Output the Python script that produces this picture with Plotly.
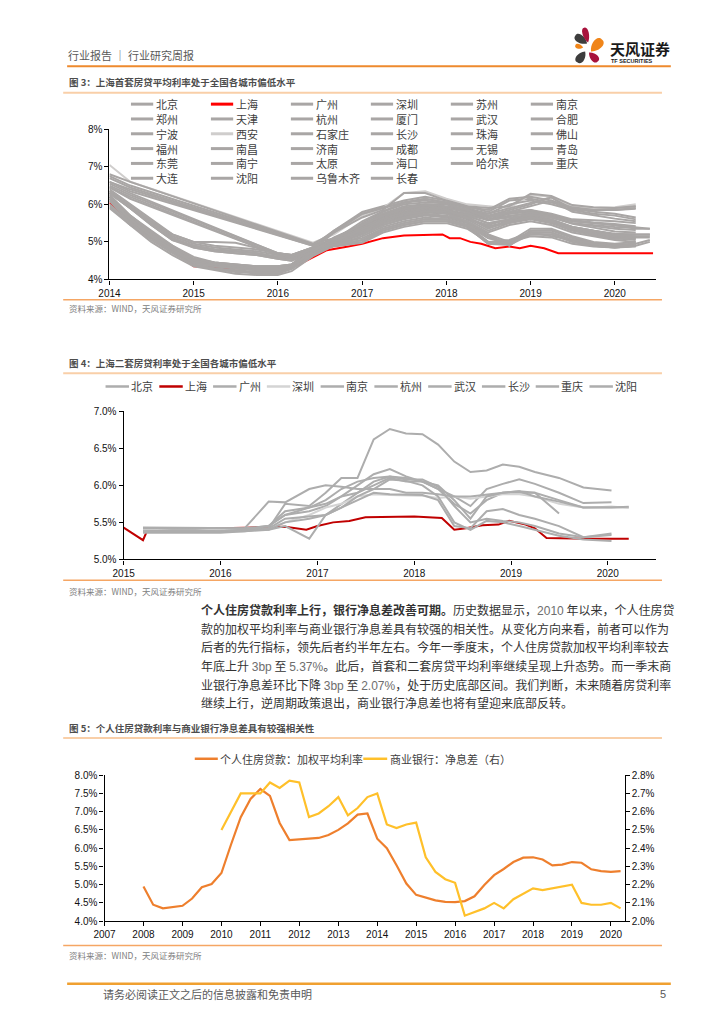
import plotly.graph_objects as go

W, H = 724, 1024
CJK = "Noto Sans CJK SC"
NUM = "Liberation Sans, Arial, Noto Sans CJK SC"
N = None


def px(x):
    return x / W


def py(y):
    return 1 - y / H


# ---------------- Figure 3 data ----------------
cities1 = ["北京", "上海", "广州", "深圳", "苏州", "南京",
           "郑州", "天津", "杭州", "厦门", "武汉", "合肥",
           "宁波", "西安", "石家庄", "长沙", "珠海", "佛山",
           "福州", "南昌", "济南", "成都", "无锡", "青岛",
           "东莞", "南宁", "太原", "海口", "哈尔滨", "重庆",
           "大连", "沈阳", "乌鲁木齐", "长春"]

dates1 = ["2014-01-01", "2014-04-01", "2014-07-01", "2014-10-01", "2015-01-01", "2015-04-01",
          "2015-07-01", "2015-10-01", "2016-01-01", "2016-03-01", "2016-06-01", "2016-09-01",
          "2017-01-01", "2017-04-01", "2017-07-01", "2017-10-01", "2018-01-01", "2018-04-01",
          "2018-07-01", "2018-10-01", "2019-01-01", "2019-04-01", "2019-07-01", "2019-10-01",
          "2020-01-01", "2020-04-01", "2020-06-01"]

# first-home average mortgage rate (%), other cities, order of gray_cities1
gray_cities1 = [c for c in cities1 if c != "上海"]
gray_rates1 = [
    [6.75, 6.5, N, N, N, N, N, N, N, N, 4.95, 5.1, 5.45, 5.7, 5.9, 5.95, 5.9, 5.8, 5.6, 5.75, 5.85, 5.7, 5.55, 5.5, 5.45, 5.4, 5.35],          # 北京
    [6.2, 5.65, 5.2, 4.85, 4.5, 4.4, 4.35, 4.3, 4.3, 4.35, 4.75, 5.0, 5.3, 5.55, 5.75, 5.85, 5.85, 5.7, 5.5, 5.6, 5.7, 5.6, 5.4, 5.3, 5.2, 5.2, 5.2],  # 广州
    [6.1, 5.55, 5.1, 4.75, 4.4, 4.3, 4.25, 4.2, 4.2, 4.3, 4.7, 4.95, 5.2, 5.45, 5.6, 5.7, 5.65, 5.5, 5.15, 4.9, 5.3, 5.3, 5.1, 4.95, 4.9, 4.95, N],   # 深圳
    [6.3, 5.95, 5.55, 5.2, 5.0, 5.0, 4.98, 4.85, 4.7, 4.65, 4.8, 4.9, 5.05, 5.3, 5.45, 5.55, 5.55, 5.4, 4.95, 4.95, 5.2, 5.2, 5.0, 4.9, 4.85, 4.9, N],  # 苏州
    [6.15, 5.6, 5.15, 4.8, 4.45, 4.35, 4.3, 4.25, 4.25, 4.35, 4.75, 4.95, 5.1, 5.35, 5.5, 5.6, 5.6, 5.45, 5.0, 5.0, 5.25, 5.15, 5.05, 4.95, 4.9, 4.95, 5.05],  # 南京
    [6.6, 6.4, N, N, N, N, N, N, N, N, 4.9, 5.3, 5.8, 5.95, 6.1, 6.2, 6.1, 5.95, 5.8, 6.1, 6.15, 6.05, 5.9, 5.88, 5.9, 5.95, N],                  # 郑州
    [6.35, 5.9, 5.5, 5.1, 4.85, 4.75, 4.7, 4.65, 4.55, 4.5, 4.75, 5.05, 5.35, 5.6, 5.8, 5.9, 5.8, 5.6, 5.3, 5.5, 5.6, 5.5, 5.3, 5.2, 5.1, 5.05, N],   # 天津
    [6.25, 5.7, 5.25, 4.9, 4.55, 4.45, 4.4, 4.35, 4.35, 4.4, 4.8, 4.98, 5.25, 5.5, 5.68, 5.78, 5.75, 5.62, 5.42, 5.52, 5.62, 5.5, 5.32, 5.22, 5.12, 5.1, N],  # 杭州
    [5.95, 5.45, 5.0, 4.65, 4.35, 4.25, 4.15, 4.12, 4.12, 4.22, 4.62, 4.9, 5.15, 5.4, 5.55, 5.65, 5.6, 5.45, 5.1, 4.95, 5.25, 5.25, 5.05, 4.9, 4.88, 4.9, N],  # 厦门
    [6.45, 6.2, N, N, N, N, N, N, 4.65, 4.6, 4.8, 5.0, 5.5, 5.8, 6.0, 6.05, 6.05, 5.9, 5.7, 5.85, 6.0, 6.2, 5.85, 5.75, 5.7, 5.6, N],          # 武汉
    [6.2, 5.6, 5.15, 4.8, 4.5, 4.4, 4.35, 4.3, 4.3, 4.35, 4.7, 4.9, 5.0, 5.3, 5.45, 5.55, 5.55, 5.4, 4.95, 4.92, 5.2, 5.2, 5.0, 4.9, 4.85, 4.9, 5.0],  # 合肥
    [6.3, 5.9, 5.45, 5.05, 4.9, 4.8, 4.75, 4.7, 4.6, 4.55, 4.8, 4.92, 5.22, 5.5, 5.7, 5.8, 5.78, 5.62, 5.4, 5.5, 5.62, 5.52, 5.3, 5.18, 5.08, 5.1, N],  # 宁波
    [7.05, 6.6, N, N, N, N, N, N, N, N, 4.98, 5.2, 5.7, 5.9, 6.3, 6.35, 6.15, 6.0, 5.95, 5.9, 6.25, 6.2, 5.95, 5.9, 5.92, 6.0, N],              # 西安
    [6.25, 5.7, 5.3, 4.9, 4.6, 4.45, 4.4, 4.35, 4.35, 4.4, 4.85, 5.3, 5.75, 5.9, 6.05, 6.15, 6.05, 5.9, 5.75, 6.0, 6.1, 6.0, 5.85, 5.85, 5.85, 5.9, N],  # 石家庄
    [6.35, 5.95, 5.55, 5.15, 4.95, 4.85, 4.8, 4.75, 4.65, 4.6, 4.8, 5.1, 5.4, 5.7, 5.85, 5.95, 5.9, 5.8, 5.65, 5.75, 5.8, 5.7, 5.55, 5.5, 5.45, 5.35, 5.35],  # 长沙
    [6.1, 5.5, 5.1, 4.75, 4.4, 4.3, 4.22, 4.15, 4.15, 4.28, 4.65, 4.95, 5.2, 5.45, 5.62, 5.72, 5.68, 5.52, 5.2, 4.9, 5.3, 5.32, 5.12, 4.98, 4.92, 4.95, N],  # 珠海
    [6.2, 5.65, 5.2, 4.85, 4.5, 4.4, 4.3, 4.25, 4.25, 4.35, 4.75, 5.08, 5.4, 5.65, 5.85, 5.95, 5.88, 5.68, 5.38, 5.58, 5.65, 5.55, 5.35, 5.25, 5.15, 5.12, 5.12],  # 佛山
    [6.5, 6.25, N, N, N, N, N, N, 4.7, 4.65, 4.85, 5.1, 5.42, 5.72, 5.88, 5.98, 5.92, 5.82, 5.68, 5.78, 5.82, 5.72, 5.58, 5.52, 5.48, 5.42, N],  # 福州
    [6.4, 6.0, 5.6, 5.2, 5.0, 4.9, 4.85, 4.8, 4.7, 4.65, 4.85, 4.98, 5.45, 5.75, 5.95, 6.0, 6.0, 5.85, 5.75, 5.9, 6.05, 6.18, 5.88, 5.8, 5.75, 5.65, N],  # 南昌
    [6.15, 5.6, 5.2, 4.8, 4.5, 4.4, 4.35, 4.3, 4.3, 4.4, 4.75, 5.05, 5.35, 5.65, 5.8, 5.9, 5.85, 5.75, 5.6, 5.7, 5.75, 5.65, 5.5, 5.45, 5.4, 5.38, N],  # 济南
    [6.2, 5.7, 5.25, 4.85, 4.55, 4.45, 4.4, 4.35, 4.35, 4.4, 4.8, 5.02, 5.38, 5.62, 5.8, 5.9, 5.92, 5.78, 5.58, 5.68, 5.78, 5.66, 5.48, 5.38, 5.28, 5.25, N],  # 成都
    [5.9, 5.45, 5.1, 4.75, 4.45, 4.35, 4.3, 4.25, 4.25, 4.3, 4.7, 4.88, 4.98, 5.25, 5.4, 5.5, 5.5, 5.35, 5.0, 5.05, 5.25, 5.25, 5.05, 4.95, 4.9, 4.92, N],  # 无锡
    [6.55, 6.3, N, N, N, N, N, N, 4.7, 4.65, 4.85, 5.05, 5.38, 5.62, 5.78, 5.92, 5.82, 5.62, 5.45, 5.6, 5.68, 5.55, 5.4, 5.3, 5.22, 5.2, N],     # 青岛
    [6.0, 5.5, 5.05, 4.7, 4.38, 4.28, 4.2, 4.18, 4.18, 4.28, 4.68, 4.98, 5.25, 5.5, 5.65, 5.75, 5.7, 5.55, 5.2, 5.0, 5.35, 5.35, 5.15, 5.0, 4.95, 5.0, N],  # 东莞
    [6.7, 6.45, N, N, N, N, N, N, N, N, 4.92, 5.0, 5.3, 5.55, 5.75, 5.85, 5.85, 5.7, 5.5, 5.6, 5.7, 5.6, 5.4, 5.3, 5.2, 5.2, 5.2],              # 南宁
    [6.35, 5.95, 5.5, 5.1, 4.9, 4.8, 4.75, 4.7, 4.6, 4.55, 4.8, 5.25, 5.75, 5.92, 6.05, 6.15, 6.05, 5.92, 5.85, 6.15, 6.2, 6.1, 5.92, 5.85, 5.85, 5.88, N],  # 太原
    [6.8, 6.6, N, N, N, N, N, N, N, N, 4.95, 5.25, 5.65, 5.85, 6.3, 6.3, 6.1, 5.95, 5.9, 5.95, 6.28, 6.22, 5.98, 5.92, 5.9, 5.95, N],           # 海口
    [6.3, 5.9, 5.5, 5.1, 4.9, 4.8, 4.75, 4.7, 4.6, 4.55, 4.8, 5.0, 5.3, 5.55, 5.75, 5.85, 5.75, 5.55, 5.25, 5.45, 5.55, 5.45, 5.25, 5.15, 5.05, 5.0, N],  # 哈尔滨
    [6.2, 5.6, 5.2, 4.8, 4.5, 4.4, 4.35, 4.3, 4.3, 4.35, 4.75, 5.12, 5.45, 5.75, 5.9, 6.0, 5.95, 5.85, 5.7, 5.8, 5.85, 5.75, 5.6, 5.58, 5.55, 5.5, N],  # 重庆
    [6.6, 6.35, N, N, N, N, N, N, N, N, 4.9, 4.92, 5.05, 5.35, 5.5, 5.6, 5.6, 5.45, 5.1, 5.0, 5.15, 5.12, 4.95, 4.88, 4.85, 4.88, N],           # 大连
    [6.3, 5.9, 5.45, 5.05, 4.85, 4.75, 4.7, 4.65, 4.55, 4.5, 4.75, 5.0, 5.32, 5.58, 5.72, 5.82, 5.8, 5.72, 5.58, 5.65, 5.72, 5.65, 5.5, 5.42, 5.35, 5.32, N],  # 沈阳
    [6.45, 6.15, N, N, N, N, N, N, 4.65, 4.6, 4.8, 5.05, 5.55, 5.82, 6.05, 6.1, 6.0, 5.85, 5.65, 5.8, 5.95, 6.1, 5.8, 5.7, 5.62, 5.55, N],     # 乌鲁木齐
    [6.15, 5.6, 5.15, 4.8, 4.45, 4.35, 4.3, 4.25, 4.25, 4.35, 4.75, 5.1, 5.45, 5.7, 5.88, 5.98, 5.85, 5.65, 5.35, 5.55, 5.65, 5.58, 5.38, 5.28, 5.18, 5.15, 5.15],  # 长春
]

sh_dates1 = ["2014-01-01", "2014-02-01", "2014-04-01", "2014-07-01", "2014-10-01", "2014-12-01",
             "2015-01-01", "2015-06-01", "2016-01-01", "2016-04-01", "2016-08-01", "2016-11-01",
             "2017-01-01", "2017-04-01", "2017-07-01", "2017-12-15", "2018-01-15", "2018-03-01",
             "2018-04-15", "2018-06-01", "2018-08-01", "2018-10-01", "2018-11-15", "2019-01-01",
             "2019-03-01", "2019-05-01", "2020-06-15"]
sh_rates1 = [6.05, 5.85, 5.6, 5.2, 4.8, 4.5, 4.35, 4.3, 4.3, 4.4, 4.78, 4.88, 4.95, 5.1, 5.17, 5.2,
             5.1, 5.1, 5.0, 4.95, 4.83, 4.88, 4.83, 4.9, 4.83, 4.7, 4.7]

years1 = ["2014", "2015", "2016", "2017", "2018", "2019", "2020"]
yticks1 = [4, 5, 6, 7, 8]

# ---------------- Figure 4 data ----------------
cities2 = ["北京", "上海", "广州", "深圳", "南京", "杭州", "武汉", "长沙", "重庆", "沈阳"]
dates2 = ["2015-03-15", "2015-07-01", "2015-10-01", "2016-01-01", "2016-04-01", "2016-07-01",
          "2016-09-01", "2016-12-01", "2017-02-01", "2017-04-01", "2017-06-01", "2017-08-01",
          "2017-10-01", "2017-12-01", "2018-02-01", "2018-04-01", "2018-06-01", "2018-08-01",
          "2018-10-01", "2018-12-01", "2019-02-01", "2019-04-01", "2019-07-01", "2019-10-01",
          "2020-01-15", "2020-03-20"]
gray_cities2 = [c for c in cities2 if c != "上海"]
gray_rates2 = [
    [5.40, 5.40, 5.40, 5.40, 5.42, 5.45, 5.60, 5.65, 5.72, 5.85, 6.00, 6.15, 6.22, 6.12, 6.05, 5.95, 5.85, 5.72, 5.95, 6.02, 6.08, 6.02, 5.90, 5.76, 5.77, N],
    [5.40, 5.40, 5.40, 5.40, 5.40, 5.40, 5.45, 5.28, 5.60, 5.75, 5.90, 6.05, 6.12, 6.10, 6.05, 5.95, 5.75, 5.62, 5.80, 5.90, 5.90, 5.90, 5.80, 5.70, 5.71, 5.70],
    [5.40, 5.42, 5.42, 5.40, 5.40, 5.42, 5.50, 5.60, 5.70, 5.75, 5.85, 5.88, 5.87, 5.87, 5.86, 5.83, 5.85, 5.82, 5.85, 5.88, 5.88, 5.85, 5.75, 5.70, 5.70, 5.70],
    [5.38, 5.38, 5.38, 5.38, 5.40, 5.42, 5.75, 5.72, 5.90, 6.10, 6.10, 6.62, 6.76, 6.70, 6.69, 6.55, 6.32, 6.18, 6.20, 6.28, 6.25, 6.18, 6.10, 5.97, 5.93, N],
    [5.42, 5.42, 5.42, 5.42, 5.42, 5.78, 5.77, 5.95, 6.00, 5.98, 5.95, 5.95, 5.95, 5.90, 5.90, 5.88, 5.85, 5.85, 5.88, 5.90, 5.92, 5.85, 5.78, 5.70, 5.70, 5.71],
    [5.43, 5.43, 5.42, 5.42, 5.42, 5.45, 5.65, 5.70, 5.75, 5.85, 5.90, 6.00, 6.10, 6.05, 6.05, 6.00, 5.80, 5.55, 5.85, 5.90, 5.92, 5.90, 5.62, N, N, N],
    [5.37, 5.37, 5.37, 5.37, 5.38, 5.42, 5.55, 5.58, 5.60, 5.70, 5.80, 5.90, 5.88, 5.88, 5.87, 5.80, 5.45, 5.42, 5.65, 5.68, 5.60, 5.55, 5.45, 5.30, 5.35, N],
    [5.36, 5.36, 5.36, 5.36, 5.38, 5.40, 5.50, 5.55, 5.60, 5.70, 5.85, 5.95, 6.08, 6.06, 6.00, 5.85, 5.50, 5.40, 5.52, 5.50, 5.45, 5.40, 5.32, 5.27, 5.25, N],
    [5.38, 5.38, 5.38, 5.38, 5.40, 5.45, 5.60, 5.70, 5.80, 5.95, 6.05, 6.10, 6.12, 6.08, 6.08, 5.98, 5.72, 5.50, 5.55, 5.52, 5.50, 5.45, 5.35, 5.30, 5.33, N],
]
sh_dates2 = ["2015-01-01", "2015-03-15", "2015-04-01", "2015-07-01", "2016-01-01", "2016-06-01",
             "2016-09-01", "2016-11-20", "2017-01-01", "2017-03-01", "2017-05-01", "2017-07-01",
             "2017-09-01", "2017-11-15", "2018-01-01", "2018-04-15", "2018-06-01", "2018-07-15",
             "2018-09-15", "2018-11-15", "2018-12-25", "2019-02-25", "2019-04-01", "2019-05-15",
             "2019-10-15", "2020-03-20"]
sh_rates2 = [5.43, 5.26, 5.40, 5.41, 5.42, 5.43, 5.44, 5.40, 5.45, 5.50, 5.52, 5.57, 5.57, 5.58,
             5.58, 5.56, 5.40, 5.42, 5.46, 5.47, 5.52, 5.47, 5.42, 5.29, 5.28, 5.28]
years2 = ["2015", "2016", "2017", "2018", "2019", "2020"]
yticks2 = [5.0, 5.5, 6.0, 6.5, 7.0]

# ---------------- Figure 5 data ----------------
mort_dates = [f"{y}-{m:02d}-01" for y in range(2008, 2021) for m in (1, 4, 7, 10)][:50]
mort_rates = [4.95, 4.45, 4.35, 4.38,
              4.42, 4.62, 4.93, 5.02,
              5.32, 6.10, 6.85, 7.35,
              7.62, 7.43, 6.69, 6.22,
              6.23, 6.26, 6.28, 6.36,
              6.50, 6.68, 6.92, 6.95,
              6.26, 6.00, 5.53, 5.03,
              4.72, 4.65, 4.57, 4.53,
              4.52, 4.55, 4.68, 4.99,
              5.26, 5.43, 5.62, 5.74,
              5.75, 5.69, 5.53, 5.55,
              5.62, 5.60, 5.42, 5.37,
              5.35, 5.37]
nim_dates = [f"{y}-{m:02d}-01" for y in range(2010, 2021) for m in (1, 4, 7, 10)][:42]
nim_rates = [2.50, 2.60, 2.70, 2.70,
             2.70, 2.76, 2.73, 2.77,
             2.76, 2.57, 2.59, 2.63,
             2.68, 2.58, 2.62, 2.68,
             2.70, 2.53, 2.51, 2.53,
             2.54, 2.35, 2.27, 2.23,
             2.21, 2.03, 2.05, 2.07,
             2.10, 2.07, 2.12, 2.15,
             2.18, 2.17, 2.18, 2.19,
             2.20, 2.10, 2.09, 2.09,
             2.10, 2.07]
series3 = ["个人住房贷款：加权平均利率", "商业银行：净息差（右）"]
years3 = [str(y) for y in range(2007, 2021)]
yticks3 = [4.0, 4.5, 5.0, 5.5, 6.0, 6.5, 7.0, 7.5, 8.0]
yticks4 = [2.0, 2.1, 2.2, 2.3, 2.4, 2.5, 2.6, 2.7, 2.8]

NUMSPAN = "<span style='font-family:Liberation Sans;color:#6E6E6E'>%s</span>"
paragraph = [
    "<b>个人住房贷款利率上行，银行净息差改善可期。</b>历史数据显示，" + NUMSPAN % "2010" + " 年以来，个人住房贷",
    "款的加权平均利率与商业银行净息差具有较强的相关性。从变化方向来看，前者可以作为",
    "后者的先行指标，领先后者约半年左右。今年一季度末，个人住房贷款加权平均利率较去",
    "年底上升 " + NUMSPAN % "3bp" + " 至 " + NUMSPAN % "5.37%" + "。此后，首套和二套房贷平均利率继续呈现上升态势。而一季末商",
    "业银行净息差环比下降 " + NUMSPAN % "3bp" + " 至 " + NUMSPAN % "2.07%" + "，处于历史底部区间。我们判断，未来随着房贷利率",
    "继续上行，逆周期政策退出，商业银行净息差也将有望迎来底部反转。",
]

# ---------------- colours ----------------
GRAY1 = "#A9A6A5"
LIGHT1 = "#CFCDCC"
RED1 = "#FF0000"
GRAY2 = "#ADADAD"
LIGHT2 = "#D4D4D4"
RED2 = "#C00000"
ORANGE3 = "#EE7F2D"
YELLOW3 = "#FFC02A"


def color1(c):
    return RED1 if c == "上海" else (LIGHT1 if c == "西安" else GRAY1)


def color2(c):
    return RED2 if c == "上海" else (LIGHT2 if c == "深圳" else GRAY2)


fig = go.Figure()

# Figure 3 traces
for c in cities1:
    if c == "上海":
        xs, ys = sh_dates1, sh_rates1
    else:
        xs, ys = dates1, gray_rates1[gray_cities1.index(c)]
    fig.add_trace(go.Scatter(x=xs, y=ys, name=c, mode="lines", connectgaps=True,
                             line=dict(color=color1(c), width=2), xaxis="x", yaxis="y",
                             showlegend=False, hoverinfo="skip"))

# Figure 4 traces
for c in cities2:
    if c == "上海":
        xs, ys = sh_dates2, sh_rates2
    else:
        xs, ys = dates2, gray_rates2[gray_cities2.index(c)]
    fig.add_trace(go.Scatter(x=xs, y=ys, name=c, mode="lines", connectgaps=True,
                             line=dict(color=color2(c), width=2), xaxis="x2", yaxis="y2",
                             showlegend=False, hoverinfo="skip"))

# Figure 5 traces
fig.add_trace(go.Scatter(x=mort_dates, y=mort_rates, name=series3[0], mode="lines",
                         line=dict(color=ORANGE3, width=2.2), xaxis="x3", yaxis="y3",
                         showlegend=False, hoverinfo="skip"))
fig.add_trace(go.Scatter(x=nim_dates, y=nim_rates, name=series3[1], mode="lines",
                         line=dict(color=YELLOW3, width=2.2), xaxis="x3", yaxis="y4",
                         showlegend=False, hoverinfo="skip"))

axc = dict(showline=True, linecolor="black", linewidth=1.3, ticks="outside", ticklen=4,
           tickwidth=1.2, tickcolor="black", showgrid=False, zeroline=False,
           tickfont=dict(family=NUM, size=10, color="#111111"), fixedrange=True)

fig.update_layout(
    width=W, height=H, margin=dict(l=0, r=0, t=0, b=0),
    paper_bgcolor="white", plot_bgcolor="white", showlegend=False,
    xaxis=dict(domain=[px(100), px(655)], anchor="y", type="date",
               range=["2014-01-01", "2020-06-28"],
               tickvals=[f"{y}-01-01" for y in years1], ticktext=years1, **axc),
    yaxis=dict(domain=[py(276.7), py(124.7)], anchor="x", range=[4, 8],
               tickvals=yticks1, ticktext=[f"{v}%" for v in yticks1], **axc),
    xaxis2=dict(domain=[px(114.4), px(655)], anchor="y2", type="date",
                range=["2015-01-01", "2020-07-01"],
                tickvals=[f"{y}-01-01" for y in years2], ticktext=years2, **axc),
    yaxis2=dict(domain=[py(560), py(410)], anchor="x2", range=[5.0, 7.0],
                tickvals=yticks2, ticktext=[f"{v:.1f}%" for v in yticks2], **axc),
    xaxis3=dict(domain=[px(95), px(623)], anchor="y3", type="date",
                range=["2007-01-01", "2020-05-08"],
                tickvals=[f"{y}-01-01" for y in years3], ticktext=years3, **axc),
    yaxis3=dict(domain=[py(926), py(778.3)], anchor="x3", range=[4.0, 8.0],
                tickvals=yticks3, ticktext=[f"{v:.1f}%" for v in yticks3], **axc),
    yaxis4=dict(anchor="x3", overlaying="y3", side="right", range=[2.0, 2.8],
                tickvals=yticks4, ticktext=[f"{v:.1f}%" for v in yticks4], **axc),
)

shapes = []
annos = []


def hline(x0, x1, y, color, width):
    shapes.append(dict(type="line", xref="paper", yref="paper", x0=px(x0), x1=px(x1),
                       y0=py(y), y1=py(y), line=dict(color=color, width=width)))


def text(x, y, s, size, color, xanchor="left", family=CJK):
    annos.append(dict(x=px(x), y=py(y), xref="paper", yref="paper", text=s, showarrow=False,
                      xanchor=xanchor, yanchor="middle", borderpad=0,
                      font=dict(size=size, color=color, family=family)))


# page header
text(57, 50, "行业报告 ｜ 行业研究周报", 11, "#595959")
hline(57, 670, 61, "#EE8A2E", 2)


# logo petals
def petal(inner, outer, hw, color):
    (x0, y0), (x1, y1) = inner, outer
    dx, dy = x1 - x0, y1 - y0
    L = (dx * dx + dy * dy) ** 0.5
    nx, ny = -dy / L * hw * 1.35, dx / L * hw * 1.35
    c1 = (x0 + 0.35 * dx + nx, y0 + 0.35 * dy + ny)
    c2 = (x1 + 0.05 * dx + nx, y1 + 0.05 * dy + ny)
    c3 = (x1 + 0.05 * dx - nx, y1 + 0.05 * dy - ny)
    c4 = (x0 + 0.35 * dx - nx, y0 + 0.35 * dy - ny)
    p = lambda pt: f"{px(pt[0])},{py(pt[1])}"
    path = (f"M {p((x0, y0))} C {p(c1)} {p(c2)} {p((x1, y1))} "
            f"C {p(c3)} {p(c4)} {p((x0, y0))} Z")
    shapes.append(dict(type="path", xref="paper", yref="paper", path=path,
                       fillcolor=color, line=dict(width=0)))


petal((585, 38), (573, 30), 4.0, "#3D3D3D")
petal((586, 37), (582, 22), 3.2, "#A8123C")
petal((589, 46), (600, 34), 5.0, "#F08519")
petal((581, 42), (573, 40), 2.4, "#F08519")
petal((583, 46), (575, 57), 4.2, "#3D3D3D")
petal((587, 47), (596, 56), 3.8, "#A8123C")
text(607, 43, "<b>天风证券</b>", 15, "#1A1A1A")
text(608, 55.5, "<b>TF SECURITIES</b>", 5.5, "#1A1A1A", family=NUM)

# Figure 3 decorations
text(58, 77, "<b>图 3：上海首套房贷平均利率处于全国各城市偏低水平</b>", 9.5, "#4D4D4D")
hline(53, 661, 87.7, "#F9CFA8", 2)
for i, c in enumerate(cities1):
    r, k = divmod(i, 6)
    x0 = 121.8 + 81.2 * k
    y = 99.3 + 15 * r
    hline(x0, x0 + 22.6, y, color1(c), 3)
    text(x0 + 24.5, y, c, 11, "#404040")
hline(53, 661, 297.3, "#F5A664", 1.5)
text(58, 306, "资料来源：WIND，天风证券研究所", 8.5, "#808080")

# Figure 4 decorations
text(58, 361, "<b>图 4：上海二套房贷利率处于全国各城市偏低水平</b>", 9.5, "#4D4D4D")
hline(53, 661, 371.7, "#F9CFA8", 2)
for i, c in enumerate(cities2):
    x0 = 96 + 54.6 * i
    hline(x0, x0 + 23.8, 385, color2(c), 2.5)
    text(x0 + 25, 385, c, 11, "#404040")
hline(53, 661, 581, "#F5A664", 1.5)
text(58, 591.7, "资料来源：WIND，天风证券研究所", 8.5, "#808080")

# paragraph
for i, line in enumerate(paragraph):
    text(192, 611 + 18.8 * i, line, 12, "#333333")

# Figure 5 decorations
text(58, 731, "<b>图 5：个人住房贷款利率与商业银行净息差具有较强相关性</b>", 9.5, "#4D4D4D")
hline(53, 661, 740.7, "#F9CFA8", 2)
hline(186.6, 210, 761.7, ORANGE3, 2.5)
text(211.5, 761.7, series3[0], 11, "#404040")
hline(357.7, 382, 761.7, YELLOW3, 2.5)
text(383.5, 761.7, series3[1], 11, "#404040")
hline(53, 661, 950.7, "#F5A664", 1.5)
text(58, 960.7, "资料来源：WIND，天风证券研究所", 8.5, "#808080")

# footer
hline(57, 670, 989.3, "#F0A030", 2.5)
text(92, 1000, "请务必阅读正文之后的信息披露和免责申明", 11, "#595959")
text(666, 1000, "5", 11, "#595959", xanchor="right", family=NUM)

fig.update_layout(shapes=shapes, annotations=annos)
fig.write_html("out.html", config={"displayModeBar": False},
               post_script="document.body.style.margin='0';document.body.style.overflow='hidden';")
